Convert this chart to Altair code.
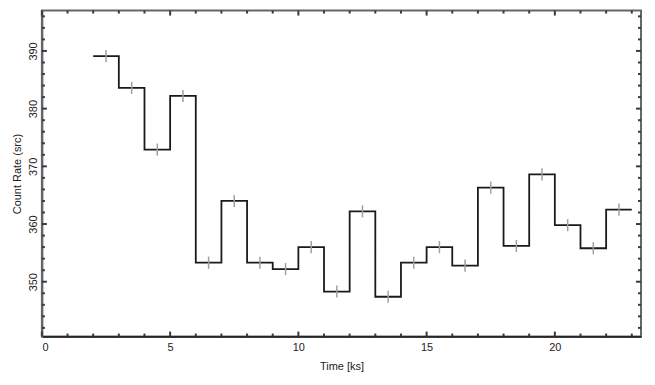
import altair as alt
import pandas as pd

# Light curve: 1 ks bins starting at t = 2 ks
bin_start = [2, 3, 4, 5, 6, 7, 8, 9, 10, 11, 12, 13, 14, 15, 16, 17, 18, 19, 20, 21, 22]
rate = [389.1, 383.6, 372.9, 382.2, 353.3, 364.0, 353.3, 352.2, 356.0, 348.3, 362.2,
        347.4, 353.3, 356.0, 352.8, 366.3, 356.2, 368.6, 359.8, 355.8, 362.5]
rate_err = [1.05] * 21
bin_width = 1.0

x_major = [0, 5, 10, 15, 20]
x_minor = [1, 2, 3, 4, 6, 7, 8, 9, 11, 12, 13, 14, 16, 17, 18, 19, 21, 22, 23]
y_major = [350, 360, 370, 380, 390]
y_minor = [342, 344, 346, 348, 352, 354, 356, 358, 362, 364, 366, 368,
           372, 374, 376, 378, 382, 384, 386, 388, 392, 394, 396]

W, H = 601, 327
MAJ, MIN = 5, 3
TICK_COLOR = "#3a3a3a"

step_df = pd.DataFrame({
    "t": bin_start + [bin_start[-1] + bin_width],
    "rate": rate + [rate[-1]],
})
err_df = pd.DataFrame({
    "t": [s + bin_width / 2 for s in bin_start],
    "lo": [r - e for r, e in zip(rate, rate_err)],
    "hi": [r + e for r, e in zip(rate, rate_err)],
})

FONT = "Liberation Sans"
xscale = alt.Scale(domain=[0, 23.36], nice=False, zero=False)
yscale = alt.Scale(domain=[340.5, 397], nice=False, zero=False)

x_axis = alt.Axis(
    values=x_major, orient="bottom", title="Time [ks]", ticks=False,
    domainColor="#111", domainWidth=1.5,
    labelPadding=5, titlePadding=8, grid=False,
    labelFont=FONT, labelFontSize=11, labelColor="#222",
    titleFont=FONT, titleFontSize=11, titleFontWeight="normal", titleColor="#222",
)
y_axis = alt.Axis(
    values=y_major, orient="left", title="Count Rate (src)", ticks=False,
    domainColor="#666", domainWidth=2,
    labelAngle=270, labelAlign="center", labelBaseline="bottom",
    labelPadding=3, titlePadding=5, grid=False,
    labelFont=FONT, labelFontSize=11, labelColor="#222",
    titleFont=FONT, titleFontSize=11, titleFontWeight="normal", titleColor="#222",
)

line = alt.Chart(step_df).mark_line(
    interpolate="step-after", color="#1a1a1a", strokeWidth=1.8
).encode(
    x=alt.X("t:Q", scale=xscale, axis=x_axis),
    y=alt.Y("rate:Q", scale=yscale, axis=y_axis),
)

errs = alt.Chart(err_df).mark_rule(color="#a0a0a0", strokeWidth=1.5).encode(
    x=alt.X("t:Q", scale=xscale),
    y=alt.Y("lo:Q", scale=yscale),
    y2="hi:Q",
)


def xticks(values, size):
    df = pd.DataFrame({"v": values})
    base = alt.Chart(df).mark_rule(color=TICK_COLOR, strokeWidth=2)
    bottom = base.encode(x=alt.X("v:Q", scale=xscale), y=alt.value(H), y2=alt.value(H - size))
    top = base.encode(x=alt.X("v:Q", scale=xscale), y=alt.value(0), y2=alt.value(size))
    return [bottom, top]


def yticks(values, size):
    df = pd.DataFrame({"v": values})
    base = alt.Chart(df).mark_rule(color=TICK_COLOR, strokeWidth=2)
    left = base.encode(y=alt.Y("v:Q", scale=yscale), x=alt.value(0), x2=alt.value(size))
    right = base.encode(y=alt.Y("v:Q", scale=yscale), x=alt.value(W), x2=alt.value(W - size))
    return [left, right]


tick_layers = xticks(x_major, MAJ) + xticks(x_minor, MIN) + yticks(y_major, MAJ) + yticks(y_minor, MIN)

chart = alt.layer(line, errs, *tick_layers).properties(
    width=W, height=H,
    padding={"left": 4, "top": 1, "right": 5, "bottom": 0},
).configure_view(stroke="#666666", strokeWidth=2)

chart.save("out.html", embed_options={"renderer": "svg", "actions": False})
